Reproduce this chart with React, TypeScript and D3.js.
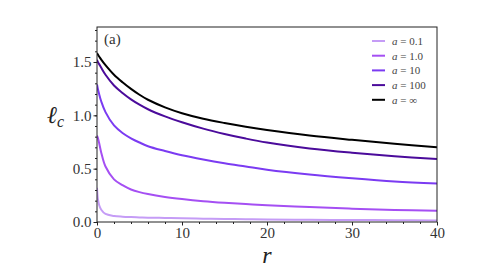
import React, { useRef, useEffect } from 'react';
import * as d3 from 'd3';

// sample points along r
const rValues = [0, 0.1, 0.25, 0.5, 1, 2, 3, 4, 5, 6, 8, 10, 12.5, 15, 17.5, 20, 25, 30, 35, 40];

// l_c for each a
const lcA01 = [0.32, 0.22, 0.16, 0.115, 0.075, 0.057, 0.05, 0.046, 0.043, 0.041, 0.038, 0.035, 0.031, 0.028, 0.026, 0.024, 0.021, 0.019, 0.017, 0.015];
const lcA1 = [0.81, 0.79, 0.74, 0.65, 0.52, 0.4, 0.345, 0.305, 0.28, 0.262, 0.235, 0.215, 0.195, 0.18, 0.168, 0.158, 0.14, 0.125, 0.113, 0.105];
const lcA10 = [1.29, 1.25, 1.2, 1.13, 1.03, 0.905, 0.835, 0.785, 0.745, 0.71, 0.665, 0.625, 0.585, 0.55, 0.52, 0.49, 0.445, 0.41, 0.38, 0.36];
const lcA100 = [1.52, 1.5, 1.48, 1.445, 1.38, 1.28, 1.21, 1.15, 1.1, 1.057, 0.99, 0.935, 0.875, 0.825, 0.782, 0.745, 0.69, 0.65, 0.617, 0.59];
const lcAInf = [1.585, 1.57, 1.552, 1.522, 1.47, 1.38, 1.31, 1.248, 1.193, 1.146, 1.075, 1.02, 0.968, 0.928, 0.893, 0.862, 0.81, 0.77, 0.734, 0.7];

const seriesLabels = ['0.1', '1.0', '10', '100', '∞'];
const seriesColors = ['#c59cf6', '#a54ff3', '#7b3bf2', '#4b0b9b', '#000000'];

const xTicks = [0, 10, 20, 30, 40];
const yTicks = [0, 0.5, 1.0, 1.5];

const FONT = "'Liberation Serif', 'DejaVu Serif', serif";

const App = () => {
    const ref = useRef<SVGSVGElement>(null);

    useEffect(() => {
        const root = d3.select(ref.current);
        root.selectAll('*').remove();

        const margin = { top: 27, right: 49, bottom: 56, left: 97 };
        const width = 486 - margin.left - margin.right;
        const height = 278 - margin.top - margin.bottom;

        const svg = root.append('g')
            .attr('transform', 'translate(' + margin.left + ',' + margin.top + ')');

        const xScale = d3.scaleLinear().domain([0, 40]).range([0, width]);
        const yScale = d3.scaleLinear().domain([0, 1.828]).range([height, 0]);

        const allSeries = [lcA01, lcA1, lcA10, lcA100, lcAInf];

        const line = d3.line<number>()
            .x((d, i) => xScale(rValues[i]))
            .y(d => yScale(d))
            .curve(d3.curveCatmullRom.alpha(0.5));

        svg.append('defs').append('clipPath').attr('id', 'clip')
            .append('rect').attr('width', width).attr('height', height);

        allSeries.forEach((vals, idx) => {
            svg.append('path')
                .datum(vals)
                .attr('clip-path', 'url(#clip)')
                .attr('fill', 'none')
                .attr('stroke', seriesColors[idx])
                .attr('stroke-width', 2)
                .attr('d', line);
        });

        // minor ticks
        const yMinor = d3.range(0, 1.81, 0.1);
        const xMinor = d3.range(0, 40.1, 2);
        svg.append('g')
            .call(d3.axisLeft(yScale).tickValues(yMinor).tickSize(2).tickFormat(() => ''))
            .call(g => g.select('.domain').remove())
            .selectAll('line').attr('stroke', '#222');
        svg.append('g')
            .attr('transform', 'translate(0,' + height + ')')
            .call(d3.axisBottom(xScale).tickValues(xMinor).tickSize(2).tickFormat(() => ''))
            .call(g => g.select('.domain').remove())
            .selectAll('line').attr('stroke', '#222');

        // major ticks
        const yAxis = svg.append('g')
            .call(d3.axisLeft(yScale).tickValues(yTicks).tickSize(3.5).tickPadding(2).tickFormat(d3.format('.1f')));
        yAxis.attr('font-family', null);
        yAxis.select('.domain').remove();
        yAxis.selectAll('line').attr('stroke', '#222');
        yAxis.selectAll('text').style('font-family', FONT).style('font-size', '15px').attr('fill', '#333');

        const xAxis = svg.append('g')
            .attr('transform', 'translate(0,' + height + ')')
            .call(d3.axisBottom(xScale).tickValues(xTicks).tickSize(3.5).tickPadding(2).tickFormat(d3.format('d')));
        xAxis.attr('font-family', null);
        xAxis.select('.domain').remove();
        xAxis.selectAll('line').attr('stroke', '#222');
        xAxis.selectAll('text').style('font-family', FONT).style('font-size', '15px').attr('fill', '#333');

        // frame
        svg.append('rect')
            .attr('x', 0).attr('y', 0)
            .attr('width', width).attr('height', height)
            .attr('fill', 'none')
            .attr('stroke', '#222')
            .attr('stroke-width', 1);

        // panel label
        svg.append('text')
            .attr('x', 7).attr('y', 17)
            .style('font-family', FONT).style('font-size', '15px').attr('fill', '#333')
            .text('(a)');

        // legend
        const legend = svg.selectAll('.lineLegend').data(seriesLabels)
            .enter().append('g')
            .attr('class', 'lineLegend')
            .attr('transform', (d, i) => 'translate(' + (width - 65) + ',' + (14 + i * 14.7) + ')');
        legend.append('line')
            .attr('x1', 0).attr('x2', 13)
            .attr('stroke', (d, i) => seriesColors[i])
            .attr('stroke-width', 2);
        legend.append('text')
            .attr('x', 20).attr('dy', '0.35em')
            .style('font-family', FONT).style('font-size', '11px').attr('fill', '#444')
            .each(function (d) {
                const t = d3.select(this);
                t.append('tspan').style('font-style', 'italic').text('a');
                t.append('tspan').text(' = ' + d);
            });

        // axis labels
        svg.append('text')
            .attr('x', width / 2).attr('y', height + 41)
            .attr('text-anchor', 'middle')
            .style('font-family', FONT).style('font-size', '24px').style('font-style', 'italic').attr('fill', '#222')
            .text('r');

        const yLab = svg.append('text')
            .attr('x', -50).attr('y', height / 2 - 2)
            .style('font-family', FONT).style('font-size', '24px').style('font-style', 'italic').attr('fill', '#222');
        yLab.append('tspan').text('ℓ');
        yLab.append('tspan').style('font-size', '16px').attr('dy', 4).text('c');
    }, []);

    return (
        <svg ref={ref} width={486} height={278} style={{ position: 'absolute', left: 0, top: 0 }}></svg>
    );
};

export default App;
